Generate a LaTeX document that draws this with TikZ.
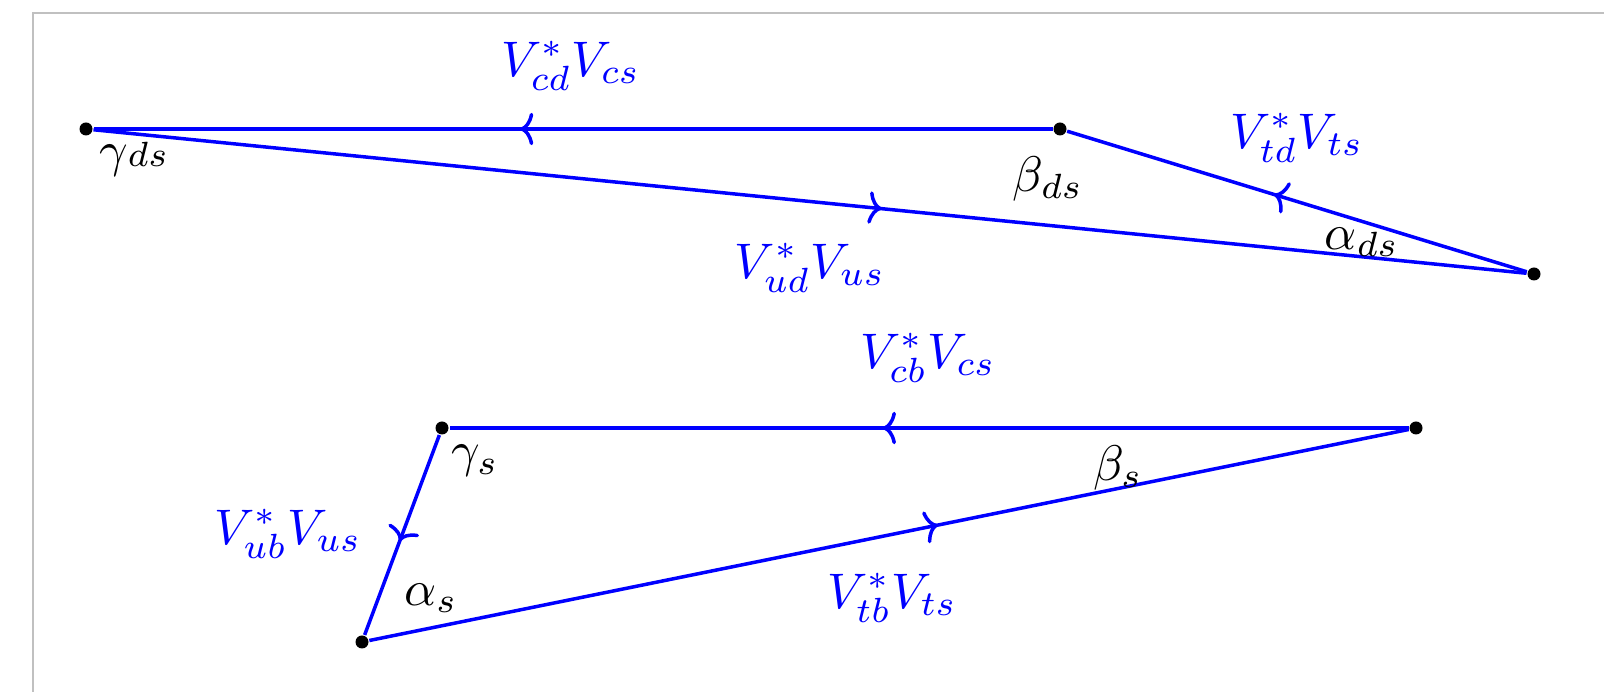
\documentclass[tikz,border=0pt]{standalone}
\usetikzlibrary{arrows.meta,decorations.markings}
\definecolor{framegray}{RGB}{192,192,192}
\tikzset{
  dot/.style={circle,fill=black,inner sep=0pt,minimum size=2.6pt},
  vec/.style={draw=blue,line width=0.7pt,postaction={decorate},
    decoration={markings,mark=at position #1 with {\arrow[blue,line width=0.7pt]{To[length=2.6pt,width=6.5pt]}}}},
  vec/.default=0.55,
  blab/.style={text=blue,inner sep=0pt},
  klab/.style={text=black,inner sep=0pt}
}
\begin{document}
\begin{tikzpicture}[x=0.2pt,y=-0.2pt]
\useasboundingbox (0,0) rectangle (1604,692);
\clip (0,0) rectangle (1604,692);
\draw[framegray,line width=0.4pt] (33,13) rectangle (1700,800);
% upper triangle
\node[dot] (gds) at (86,129) {};
\node[dot] (bds) at (1060,129) {};
\node[dot] (ads) at (1534,274) {};
\draw[vec=0.555] (bds) -- (gds);
\draw[vec=0.55] (gds) -- (ads);
\draw[vec=0.55] (ads) -- (bds);
\node[klab,anchor=base west] (lgds) at (98,167) {$\gamma{\scriptstyle ds}$};
\node[klab] (lbds) at (1048,179) {$\beta_{ds}$};
\node[klab] (lads) at (1362,242) {$\alpha_{ds}$};
\node[blab] (lcd) at (571,66) {$V_{cd}^*V_{cs}$};
\node[blab] (ltd) at (1297,138) {$V_{td}^*V_{ts}$};
\node[blab] (lud) at (810,268) {$V_{ud}^*V_{us}$};
% lower triangle
\node[dot] (gs) at (442,428) {};
\node[dot] (bs) at (1416,428) {};
\node[dot] (as) at (362,642) {};
\draw[vec=0.548] (bs) -- (gs);
\draw[vec=0.53] (gs) -- (as);
\draw[vec=0.547] (as) -- (bs);
\node[klab] (lgs) at (475,461) {$\gamma_s$};
\node[klab] (lbs) at (1118,468) {$\beta_s$};
\node[klab] (las) at (431,598) {$\alpha_s$};
\node[blab] (lcb) at (928,358) {$V_{cb}^*V_{cs}$};
\node[blab] (lub) at (288,534) {$V_{ub}^*V_{us}$};
\node[blab] (ltb) at (892,598) {$V_{tb}^*V_{ts}$};
\end{tikzpicture}
\end{document}
